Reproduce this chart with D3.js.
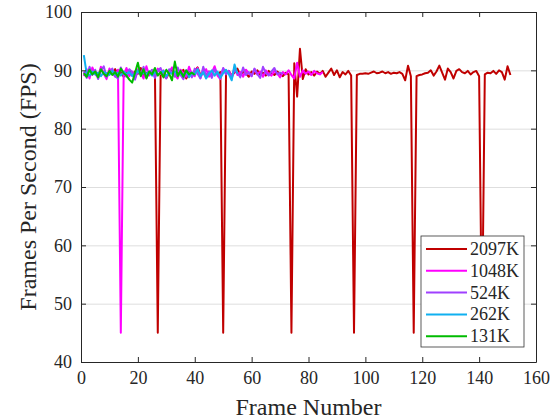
<!DOCTYPE html>
<html>
<head>
<meta charset="utf-8">
<script src="https://cdn.jsdelivr.net/npm/d3@7"></script>
<style>
  body { margin: 0; background: #fff; }
</style>
</head>
<body>
<div id="chart"></div>
<script>
// FPS per frame, one array per texture size (frame numbers start at 1)
var fps2097 = [
  89.6, 89.2, 90.1, 89.4, 89.8, 89.0, 90.3, 89.5, 89.1, 89.9,
  89.4, 90.2, 89.3, 89.7, 88.9, 89.6, 90.0, 89.2, 89.8, 89.4,
  90.4, 89.1, 89.6, 89.3, 90.0, 89.5, 45.0, 89.2, 89.8, 88.7,
  89.5, 90.3, 89.0, 89.6, 89.4, 90.1, 88.6, 89.7, 89.3, 89.9,
  90.5, 89.2, 89.6, 89.0, 89.8, 89.4, 90.2, 89.3, 89.7, 45.0,
  89.4, 89.9, 89.1, 89.6, 90.3, 89.2, 89.7, 89.5, 88.9, 89.8,
  89.4, 90.0, 89.3, 89.6, 89.1, 89.9, 89.5, 89.2, 89.8, 89.4,
  89.0, 89.6, 89.3, 45.0, 91.2, 85.5, 93.7, 88.5, 90.2, 89.3,
  89.7, 89.1, 89.8, 89.4, 89.9, 88.9, 89.6, 90.3, 89.2, 90.0,
  88.8, 89.7, 89.3, 89.9, 89.1, 45.0, 89.2, 89.4, 89.4, 89.5,
  89.4, 89.6, 89.8, 89.5, 89.6, 89.8, 89.5, 89.7, 89.4, 89.6,
  89.5, 89.7, 89.4, 88.3, 90.8, 89.0, 45.0, 89.0, 89.2, 89.3,
  89.5, 89.6, 90.0, 89.1, 89.8, 90.8, 89.6, 88.4, 90.3, 89.7,
  88.6, 89.9, 90.2, 89.7, 89.5, 89.9, 89.3, 89.7, 89.9, 89.0,
  45.0, 89.3, 89.6, 89.5, 89.9, 89.4, 90.0, 89.7, 88.4, 90.7, 89.2
];
var fps1048 = [
  89.0, 90.2, 88.6, 90.5, 89.3, 88.8, 90.6, 89.4, 88.5, 90.3,
  89.6, 88.9, 90.1, 45.0, 89.2, 90.4, 89.0, 89.8, 88.7, 90.2,
  89.5, 88.6, 90.7, 89.1, 89.9, 88.8, 90.3, 89.4, 90.0, 88.9,
  89.7, 90.5, 89.2, 88.6, 90.1, 89.5, 88.9, 90.6, 89.3, 89.0,
  90.4, 88.7, 89.8, 90.2, 88.9, 89.6, 90.7, 89.1, 88.5, 90.3,
  89.4, 89.9, 88.8, 90.5, 89.2, 89.7, 88.9, 90.1, 89.5, 89.0,
  90.2, 89.3, 89.8, 88.9, 90.0, 89.4, 89.1, 89.9, 89.5, 88.8,
  89.7, 89.3, 90.0, 89.2, 88.6, 91.3, 88.9, 90.0, 89.4, 89.8,
  89.2, 89.9, 89.5, 89.3, 89.7
];
var fps524 = [
  89.8, 88.7, 90.6, 89.2, 90.1, 88.5, 89.9, 90.7, 88.8, 89.6,
  90.3, 89.0, 88.6, 90.5, 89.4, 88.9, 90.2, 89.7, 88.4, 90.0,
  89.3, 90.6, 88.8, 89.5, 90.1, 88.7, 89.9, 90.4, 89.1, 88.6,
  90.2, 89.6, 88.9, 90.5, 89.2, 88.5, 90.0, 89.7, 88.8, 90.3,
  89.4, 88.6, 90.6, 89.1, 89.8, 88.7, 90.2, 89.5, 88.9, 90.4,
  89.3, 89.9, 88.6, 90.1, 89.6, 88.8, 90.5, 89.2, 89.7, 89.0,
  90.3, 89.4, 88.7, 90.6, 89.5, 89.1, 89.8, 90.4, 89.3, 89.6, 89.4
];
var fps262 = [
  92.6, 89.4, 89.1, 89.8, 89.3, 89.6, 89.0, 89.7, 89.5, 89.2,
  89.9, 89.3, 89.6, 89.1, 89.8, 89.4, 89.7, 89.0, 89.5, 89.9,
  89.2, 89.6, 89.4, 89.8, 89.1, 89.7, 89.3, 89.5, 89.9, 89.0,
  89.6, 89.4, 89.8, 89.2, 89.5, 89.1, 89.9, 88.8, 89.6, 89.3,
  90.2, 89.0, 89.7, 88.6, 89.4, 90.0, 89.1, 89.8, 88.7, 89.5,
  90.1, 89.3, 88.3, 91.0, 89.4
];
var fps131 = [
  89.5, 88.9, 90.1, 89.3, 89.8, 88.8, 90.2, 89.4, 89.0, 89.9,
  89.2, 89.7, 88.9, 90.3, 89.5, 89.1, 88.4, 87.9, 89.6, 91.3,
  89.0, 90.2, 88.6, 89.8, 89.3, 90.4, 89.1, 89.7, 88.8, 90.1,
  89.4, 88.3, 91.5, 89.0, 89.9, 88.9, 90.0, 89.3, 89.6, 89.2
];

var seriesNames = ["2097K", "1048K", "524K", "262K", "131K"];
var seriesValues = [fps2097, fps1048, fps524, fps262, fps131];
var seriesColors = ["#c00000", "#ff00ff", "#a040ff", "#10b0f0", "#00bb00"];

var xTicks = [0, 20, 40, 60, 80, 100, 120, 140, 160];
var yTicks = [40, 50, 60, 70, 80, 90, 100];

var serif = "Liberation Serif, DejaVu Serif, Noto Serif, serif";

var margin = { top: 12, right: 24, bottom: 58, left: 81 };
var width = 560 - margin.left - margin.right,
    height = 420 - margin.top - margin.bottom;

var svg = d3.select("#chart").append("svg")
  .attr("width", 560)
  .attr("height", 420)
  .style("background", "#fff")
  .style("font-family", serif);

var g = svg.append("g")
  .attr("transform", "translate(" + margin.left + "," + margin.top + ")");

var x = d3.scaleLinear().domain([0, 160]).range([0, width]);
var y = d3.scaleLinear().domain([40, 100]).range([height, 0]);

// horizontal grid only
g.append("g")
  .attr("class", "grid")
  .call(d3.axisLeft(y).tickValues(yTicks).tickSize(-width).tickFormat(""))
  .call(function (s) {
    s.select(".domain").remove();
    s.selectAll("line").attr("stroke", "#dedede").attr("stroke-width", 1);
  });

// data lines, first series at the bottom
var line = d3.line()
  .x(function (d, i) { return x(i + 1); })
  .y(function (d) { return y(d); });

seriesValues.forEach(function (vals, k) {
  g.append("path")
    .datum(vals)
    .attr("fill", "none")
    .attr("stroke", seriesColors[k])
    .attr("stroke-width", 2)
    .attr("stroke-linejoin", "round")
    .attr("d", line);
});

// axes with inward ticks, box on all four sides
function styleAxis(s) {
  s.attr("font-family", null).attr("font-size", null);
  s.select(".domain").attr("stroke", "#262626");
  s.selectAll(".tick line").attr("stroke", "#262626");
  s.selectAll("text")
    .style("font-family", serif)
    .style("font-size", "18px")
    .attr("fill", "#262626");
}

g.append("g")
  .attr("transform", "translate(0," + height + ")")
  .call(d3.axisBottom(x).tickValues(xTicks).tickSize(-5).tickSizeOuter(0).tickPadding(9))
  .call(styleAxis);

g.append("g")
  .call(d3.axisTop(x).tickValues(xTicks).tickSize(-5).tickSizeOuter(0).tickFormat(""))
  .call(styleAxis);

g.append("g")
  .call(d3.axisLeft(y).tickValues(yTicks).tickSize(-5).tickSizeOuter(0).tickPadding(9))
  .call(styleAxis);

g.append("g")
  .attr("transform", "translate(" + width + ",0)")
  .call(d3.axisRight(y).tickValues(yTicks).tickSize(-5).tickSizeOuter(0).tickFormat(""))
  .call(styleAxis);

// axis titles
svg.append("text")
  .attr("x", margin.left + width / 2)
  .attr("y", 415)
  .attr("text-anchor", "middle")
  .attr("fill", "#262626")
  .style("font-family", serif)
  .style("font-size", "24px")
  .text("Frame Number");

svg.append("text")
  .attr("transform", "translate(36," + (margin.top + height / 2) + ") rotate(-90)")
  .attr("text-anchor", "middle")
  .attr("fill", "#262626")
  .style("font-family", serif)
  .style("font-size", "24px")
  .text("Frames Per Second (FPS)");

// legend
var legend = svg.append("g")
  .attr("transform", "translate(421,236)");

legend.append("rect")
  .attr("width", 103)
  .attr("height", 111)
  .attr("fill", "#fff")
  .attr("stroke", "#333")
  .attr("stroke-width", 0.8);

var item = legend.selectAll(".item")
  .data(seriesNames)
  .enter().append("g")
  .attr("class", "item")
  .attr("transform", function (d, i) { return "translate(0," + (13 + i * 21.8) + ")"; });

item.append("line")
  .attr("x1", 5)
  .attr("x2", 46)
  .attr("stroke", function (d, i) { return seriesColors[i]; })
  .attr("stroke-width", 2);

item.append("text")
  .attr("x", 49)
  .attr("y", 6)
  .attr("fill", "#262626")
  .style("font-family", serif)
  .style("font-size", "18px")
  .text(function (d) { return d; });
</script>
</body>
</html>
